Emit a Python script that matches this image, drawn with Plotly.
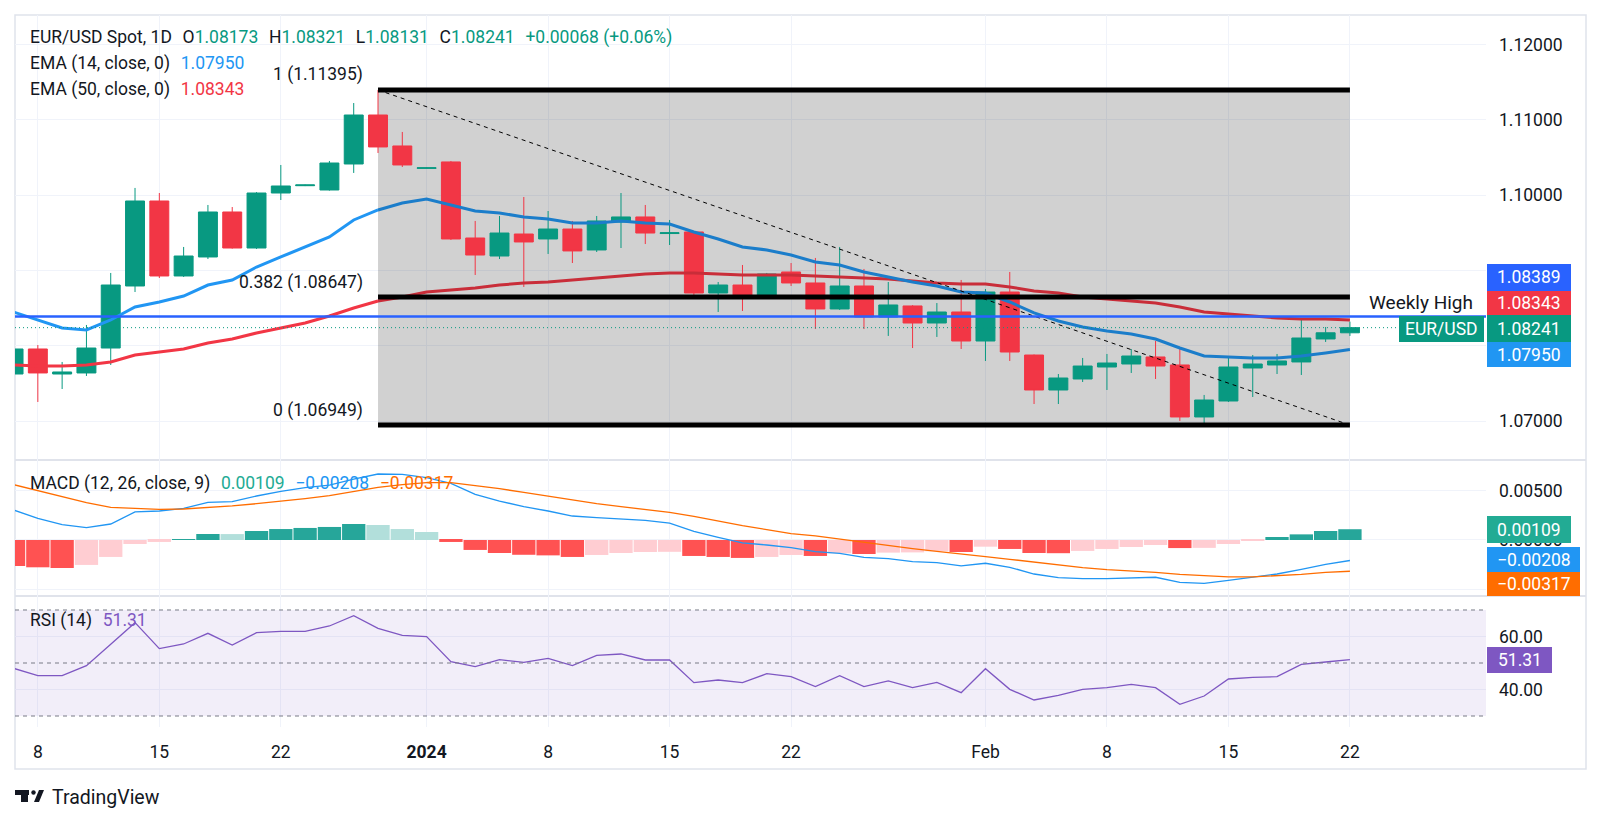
import numpy as np
import pandas as pd
import plotly.graph_objects as go

W, H = 1601, 823
FONT = "Roboto, 'Open Sans', sans-serif"
TXT = "#131722"
GREEN = "#089981"
RED = "#F23645"

# ---------------- data ----------------
dates = pd.bdate_range("2023-12-07", "2024-02-22")

opens = [1.07626, 1.07958, 1.07626, 1.07640, 1.07971, 1.08794, 1.09922, 1.08927, 1.09179, 1.09776,
         1.09298, 1.10028, 1.10125, 1.10068, 1.10413, 1.11063, 1.10652, 1.10355, 1.10440, 1.09431,
         1.09192, 1.09484, 1.09418, 1.09550, 1.09272, 1.09643, 1.09710, 1.09490, 1.09511, 1.08701,
         1.08807, 1.08675, 1.08980, 1.08834, 1.08489, 1.08794, 1.08383, 1.08529, 1.08303, 1.08449,
         1.08064, 1.08714, 1.07878, 1.07414, 1.07560, 1.07719, 1.07759, 1.07852, 1.07746, 1.07056,
         1.07268, 1.07706, 1.07746, 1.07786, 1.08091, 1.08173]
highs = [1.08011, 1.08011, 1.07786, 1.08277, 1.08967, 1.10095, 1.10028, 1.09312, 1.09869, 1.09842,
         1.10040, 1.10400, 1.10140, 1.10453, 1.11222, 1.11395, 1.10838, 1.10370, 1.10453, 1.09657,
         1.09723, 1.09975, 1.09789, 1.09657, 1.09723, 1.10028, 1.09869, 1.09670, 1.09520, 1.08847,
         1.09073, 1.08967, 1.09099, 1.09166, 1.09312, 1.09020, 1.08847, 1.08540, 1.08568, 1.08874,
         1.08754, 1.08980, 1.07885, 1.07626, 1.07839, 1.07892, 1.07958, 1.08064, 1.07985, 1.07348,
         1.07852, 1.07878, 1.07892, 1.08369, 1.08250, 1.08321]
lows = [1.07573, 1.07255, 1.07427, 1.07600, 1.07746, 1.08714, 1.08900, 1.08914, 1.09152, 1.09290,
        1.09285, 1.09935, 1.10120, 1.10060, 1.10294, 1.10559, 1.10373, 1.10350, 1.09405, 1.08940,
        1.09152, 1.08781, 1.09219, 1.09099, 1.09245, 1.09298, 1.09351, 1.09338, 1.08622, 1.08449,
        1.08462, 1.08662, 1.08794, 1.08223, 1.08476, 1.08223, 1.08131, 1.07971, 1.08118, 1.07958,
        1.07799, 1.07799, 1.07228, 1.07228, 1.07520, 1.07414, 1.07640, 1.07560, 1.07003, 1.06949,
        1.07255, 1.07321, 1.07626, 1.07613, 1.08051, 1.08131]
closes = [1.07958, 1.07640, 1.07653, 1.07971, 1.08807, 1.09922, 1.08927, 1.09192, 1.09776, 1.09298,
          1.10028, 1.10121, 1.10135, 1.10426, 1.11063, 1.10639, 1.10400, 1.10362, 1.09418, 1.09205,
          1.09497, 1.09378, 1.09550, 1.09259, 1.09657, 1.09710, 1.09497, 1.09500, 1.08701, 1.08807,
          1.08675, 1.08953, 1.08834, 1.08489, 1.08794, 1.08383, 1.08542, 1.08303, 1.08449, 1.08064,
          1.08714, 1.07918, 1.07414, 1.07573, 1.07732, 1.07772, 1.07865, 1.07732, 1.07056, 1.07281,
          1.07719, 1.07759, 1.07799, 1.08104, 1.08173, 1.08241]

ema14 = [1.08449, 1.08343, 1.08237, 1.08210, 1.08343, 1.08515, 1.08582, 1.08661, 1.08807, 1.08874,
         1.09046, 1.09179, 1.09312, 1.09444, 1.09670, 1.09803, 1.09895, 1.09949, 1.09869, 1.09789,
         1.09763, 1.09710, 1.09683, 1.09630, 1.09630, 1.09657, 1.09630, 1.09617, 1.09511, 1.09418,
         1.09312, 1.09272, 1.09205, 1.09113, 1.09073, 1.08980, 1.08914, 1.08847, 1.08794, 1.08714,
         1.08701, 1.08582, 1.08436, 1.08330, 1.08250, 1.08197, 1.08157, 1.08091, 1.07971, 1.07865,
         1.07852, 1.07839, 1.07839, 1.07865, 1.07905, 1.07950]
ema50 = [1.07746, 1.07732, 1.07732, 1.07746, 1.07786, 1.07878, 1.07918, 1.07958, 1.08038, 1.08091,
         1.08170, 1.08237, 1.08303, 1.08396, 1.08502, 1.08595, 1.08648, 1.08714, 1.08741, 1.08768,
         1.08807, 1.08834, 1.08847, 1.08874, 1.08900, 1.08927, 1.08953, 1.08967, 1.08967, 1.08953,
         1.08940, 1.08940, 1.08940, 1.08927, 1.08914, 1.08900, 1.08887, 1.08860, 1.08834, 1.08821,
         1.08821, 1.08781, 1.08728, 1.08701, 1.08648, 1.08622, 1.08595, 1.08568, 1.08515, 1.08449,
         1.08423, 1.08396, 1.08369, 1.08356, 1.08356, 1.08343]

macd = [0.00304, 0.00220, 0.00155, 0.00125, 0.00162, 0.00284, 0.00294, 0.00321, 0.00382, 0.00388,
        0.00446, 0.00493, 0.00530, 0.00557, 0.00618, 0.00669, 0.00665, 0.00632, 0.00574, 0.00463,
        0.00395, 0.00338, 0.00294, 0.00243, 0.00226, 0.00216, 0.00199, 0.00172, 0.00088, 0.00027,
        -0.00030, -0.00051, -0.00078, -0.00118, -0.00135, -0.00176, -0.00189, -0.00220, -0.00230, -0.00263,
        -0.00236, -0.00277, -0.00345, -0.00382, -0.00392, -0.00392, -0.00382, -0.00378, -0.00429, -0.00439,
        -0.00409, -0.00378, -0.00345, -0.00297, -0.00247, -0.00208]
signal = [0.00561, 0.00500, 0.00439, 0.00378, 0.00331, 0.00318, 0.00311, 0.00314, 0.00328, 0.00345,
          0.00368, 0.00392, 0.00419, 0.00449, 0.00493, 0.00534, 0.00561, 0.00581, 0.00581, 0.00554,
          0.00520, 0.00483, 0.00443, 0.00402, 0.00368, 0.00338, 0.00307, 0.00280, 0.00240, 0.00189,
          0.00145, 0.00105, 0.00064, 0.00041, 0.00007, -0.00027, -0.00057, -0.00088, -0.00115, -0.00145,
          -0.00169, -0.00196, -0.00226, -0.00257, -0.00280, -0.00301, -0.00314, -0.00328, -0.00348, -0.00365,
          -0.00375, -0.00375, -0.00365, -0.00348, -0.00328, -0.00317]
hist = [-0.00264, -0.00277, -0.00284, -0.00253, -0.00172, -0.00041, -0.00020, 0.00010, 0.00061, 0.00060,
        0.00091, 0.00111, 0.00122, 0.00132, 0.00162, 0.00152, 0.00111, 0.00081, -0.00020, -0.00101,
        -0.00132, -0.00150, -0.00156, -0.00172, -0.00152, -0.00132, -0.00122, -0.00120, -0.00162, -0.00172,
        -0.00182, -0.00172, -0.00152, -0.00162, -0.00135, -0.00142, -0.00128, -0.00126, -0.00115, -0.00122,
        -0.00068, -0.00091, -0.00132, -0.00134, -0.00111, -0.00091, -0.00071, -0.00051, -0.00082, -0.00080,
        -0.00041, -0.00010, 0.00030, 0.00057, 0.00091, 0.00109]

rsi = [47.99, 45.22, 45.22, 48.99, 57.04, 65.22, 55.41, 57.17, 61.19, 56.79,
       61.45, 61.95, 61.95, 63.96, 67.86, 63.08, 60.44, 59.94, 50.50, 48.62,
       51.26, 50.25, 51.76, 48.99, 52.89, 53.40, 51.13, 51.13, 42.58, 43.58,
       42.58, 45.97, 44.84, 41.07, 45.22, 41.07, 43.21, 40.69, 42.70, 38.81,
       47.86, 40.06, 36.04, 37.80, 40.06, 40.69, 41.95, 40.69, 34.40, 37.55,
       43.96, 44.59, 44.84, 49.50, 50.38, 51.31]

weekly_high = 1.08389
fib_start, fib_end = "2023-12-28", "2024-02-22"
fib_high, fib_low = 1.11395, 1.06949
fib_mid_ratio = 0.382
rsi_band = (30, 70)
rsi_levels = (70, 50, 30)

tick_dates = ["2023-12-08", "2023-12-15", "2023-12-22", "2024-01-01", "2024-01-08", "2024-01-15",
              "2024-01-22", "2024-02-01", "2024-02-08", "2024-02-15", "2024-02-22"]
tick_text = ["8", "15", "22", "<b>2024</b>", "8", "15", "22", "Feb", "8", "15", "22"]

price_ticks = [1.07, 1.08, 1.09, 1.10, 1.11, 1.12]
price_labels_hidden = [1.08, 1.09]          # covered by the price tags in the reference
macd_ticks = [-0.005, 0.0, 0.005]
macd_labels_hidden = [-0.005]
rsi_ticks = [40, 60]

# ---------------- helpers ----------------
pos = {d.strftime("%Y-%m-%d"): i for i, d in enumerate(dates)}
x = np.arange(len(dates))
x_range = [0.06, 60.6]


def px(v):
    return v / W


def py(v):
    return 1 - v / H


MINUS = "\u2212"


def fmt(v, d=5):
    s = f"{abs(v):.{d}f}"
    return (MINUS + s) if v < 0 else s


fib_mid = fib_low + fib_mid_ratio * (fib_high - fib_low)
i0, i1 = pos[fib_start], pos[fib_end]

# histogram colours (TradingView rule)
hcol = []
for k, v in enumerate(hist):
    prev = hist[k - 1] if k > 0 else (v + 1e-9 if v < 0 else v - 1e-9)
    if v >= 0:
        hcol.append("#26A69A" if v > prev else "#B2DFDB")
    else:
        hcol.append("#FFCDD2" if v > prev else "#FF5252")

fig = go.Figure()
# EMA lines: the part under the semi-transparent fib box is drawn in its shaded tone
for series, bright, shaded in ((ema50, "#F23645", "#C92D39"), (ema14, "#2196F3", "#1B7DCA")):
    fig.add_trace(go.Scatter(x=x[:i0 + 1], y=series[:i0 + 1], mode="lines", line=dict(color=bright, width=3),
                             hoverinfo="skip", showlegend=False))
    fig.add_trace(go.Scatter(x=x[i0:], y=series[i0:], mode="lines", line=dict(color=shaded, width=3),
                             hoverinfo="skip", showlegend=False))
fig.add_trace(go.Candlestick(x=x, open=opens, high=highs, low=lows, close=closes,
                             increasing=dict(line=dict(color=GREEN, width=1), fillcolor=GREEN),
                             decreasing=dict(line=dict(color=RED, width=1), fillcolor=RED),
                             whiskerwidth=0, hoverinfo="skip", showlegend=False))
fig.add_trace(go.Bar(x=x, y=hist, marker=dict(color=hcol, line=dict(width=0)), yaxis="y2",
                     hoverinfo="skip", showlegend=False))
fig.add_trace(go.Scatter(x=x, y=macd, mode="lines", line=dict(color="#2196F3", width=1.3), yaxis="y2",
                         hoverinfo="skip", showlegend=False))
fig.add_trace(go.Scatter(x=x, y=signal, mode="lines", line=dict(color="#FF6D00", width=1.3), yaxis="y2",
                         hoverinfo="skip", showlegend=False))
fig.add_trace(go.Scatter(x=x, y=rsi, mode="lines", line=dict(color="#7E57C2", width=1.3), yaxis="y3",
                         hoverinfo="skip", showlegend=False))

shapes = []
annotations = []

# fib background box (above grid, below traces)
shapes.append(dict(type="rect", xref="x", yref="y", x0=i0, x1=i1, y0=fib_low, y1=fib_high,
                   fillcolor="rgba(0,0,0,0.18)", line=dict(width=0), layer="between"))
# RSI band (above grid, below traces)
shapes.append(dict(type="rect", xref="x", yref="y3", x0=x_range[0], x1=x_range[1],
                   y0=rsi_band[0], y1=rsi_band[1],
                   fillcolor="rgba(126,87,194,0.1)", line=dict(width=0), layer="between"))
# fib lines + diagonal
for lvl in (fib_high, fib_mid, fib_low):
    shapes.append(dict(type="line", xref="x", yref="y", x0=i0, x1=i1, y0=lvl, y1=lvl,
                       line=dict(color="black", width=5), layer="above"))
shapes.append(dict(type="line", xref="x", yref="y", x0=i0, x1=i1, y0=fib_high, y1=fib_low,
                   line=dict(color="black", width=1, dash="4px,4px"), layer="above"))
# weekly high / last price
shapes.append(dict(type="line", xref="x", yref="y", x0=x_range[0], x1=x_range[1], y0=weekly_high, y1=weekly_high,
                   line=dict(color="#2962FF", width=2.5), layer="above"))
shapes.append(dict(type="line", xref="x", yref="y", x0=x_range[0], x1=x_range[1], y0=closes[-1], y1=closes[-1],
                   line=dict(color=GREEN, width=1, dash="1px,3px"), layer="above"))
# RSI levels
for lvl in rsi_levels:
    shapes.append(dict(type="line", xref="x", yref="y3", x0=x_range[0], x1=x_range[1], y0=lvl, y1=lvl,
                       line=dict(color="#787B86", width=1, dash="4px,4px"), layer="above"))
# frame and separators
shapes.append(dict(type="rect", xref="paper", yref="paper", x0=px(15), x1=px(1586), y0=py(769), y1=py(15),
                   line=dict(color="#E0E3EB", width=1.5), layer="below"))
for yy in (460, 596):
    shapes.append(dict(type="line", xref="paper", yref="paper", x0=px(15), x1=px(1586), y0=py(yy), y1=py(yy),
                       line=dict(color="#E0E3EB", width=2), layer="below"))


def tag(x0, x1, y0, y1, bg, text, size=17.5):
    shapes.append(dict(type="rect", xref="paper", yref="paper", x0=px(x0), x1=px(x1), y0=py(y1), y1=py(y0),
                       fillcolor=bg, line=dict(width=0), layer="above"))
    annotations.append(dict(xref="paper", yref="paper", x=px((x0 + x1) / 2), y=py((y0 + y1) / 2),
                            text=text, showarrow=False, font=dict(color="white", size=size, family=FONT),
                            xanchor="center", yanchor="middle"))


tag(1487, 1571, 264, 291, "#2962FF", fmt(weekly_high))
tag(1487, 1571, 291, 315, "#F23645", fmt(ema50[-1]))
tag(1399, 1484, 316, 342, GREEN, "EUR/USD")
tag(1487, 1571, 315, 342, GREEN, fmt(closes[-1]))
tag(1487, 1571, 342, 367, "#2196F3", fmt(ema14[-1]))
tag(1487, 1571, 516, 543, "#22AB94", fmt(hist[-1]))
tag(1487, 1580, 547, 572, "#2196F3", fmt(macd[-1]))
tag(1487, 1580, 572, 596, "#FF6D00", fmt(signal[-1]))
tag(1487, 1552, 647, 673, "#7E57C2", f"{rsi[-1]:.2f}")


def note(xp, yp, text, size=17.5, color=TXT, anchor="left"):
    annotations.append(dict(xref="paper", yref="paper", x=px(xp), y=py(yp), text=text, showarrow=False,
                            font=dict(color=color, size=size, family=FONT), xanchor=anchor, yanchor="middle"))


SP = "\u2002\u200a"
chg = closes[-1] - closes[-2]
pct = chg / closes[-2] * 100
g = lambda s: f"<span style='color:{GREEN}'>{s}</span>"
line1 = (f"EUR/USD Spot, 1D{SP}O{g(fmt(opens[-1]))}{SP}H{g(fmt(highs[-1]))}{SP}L{g(fmt(lows[-1]))}"
         f"{SP}C{g(fmt(closes[-1]))}{SP}{g(f'+{chg:.5f} (+{pct:.2f}%)')}")
note(28, 38, line1)
note(28, 64, f"EMA (14, close, 0){SP}<span style='color:#2196F3'>{fmt(ema14[-1])}</span>")
note(28, 90, f"EMA (50, close, 0){SP}<span style='color:#F23645'>{fmt(ema50[-1])}</span>")
note(28, 483, f"MACD (12, 26, close, 9){SP}<span style='color:#22AB94'>{fmt(hist[-1])}</span>{SP}"
              f"<span style='color:#2196F3'>{fmt(macd[-1])}</span>{SP}"
              f"<span style='color:#FF6D00'>{fmt(signal[-1])}</span>")
note(28, 620, f"RSI (14){SP}<span style='color:#7E57C2'>{rsi[-1]:.2f}</span>")
note(1475, 302, "Weekly High", size=19, anchor="right")
note(50, 797, "TradingView", size=19.5)

# fib labels anchored to data
for ratio, lvl in ((1, fib_high), (fib_mid_ratio, fib_mid), (0, fib_low)):
    annotations.append(dict(xref="x", yref="y", x=i0, y=lvl, xshift=-13, yshift=15,
                            text=f"{ratio:g} ({lvl:.5f})", showarrow=False,
                            font=dict(color=TXT, size=17.5, family=FONT), xanchor="right", yanchor="middle"))


# logo
def rectp(x0, x1, y0, y1):
    shapes.append(dict(type="rect", xref="paper", yref="paper", x0=px(x0), x1=px(x1), y0=py(y1), y1=py(y0),
                       fillcolor=TXT, line=dict(width=0), layer="above"))


rectp(15, 29, 790, 795)
rectp(21, 28, 790, 802)
shapes.append(dict(type="circle", xref="paper", yref="paper", x0=px(31.3), x1=px(35.7), y0=py(794.7), y1=py(790.3),
                   fillcolor=TXT, line=dict(width=0), layer="above"))
shapes.append(dict(type="path", xref="paper", yref="paper",
                   path=f"M {px(34)} {py(802)} L {px(39)} {py(802)} L {px(44)} {py(790)} L {px(39)} {py(790)} Z",
                   fillcolor=TXT, line=dict(width=0), layer="above"))

axis_font = dict(size=17.5, color=TXT, family=FONT)
fig.update_layout(
    width=W, height=H, margin=dict(l=0, r=0, t=0, b=0),
    paper_bgcolor="white", plot_bgcolor="white",
    font=dict(family=FONT, color=TXT),
    hovermode=False, showlegend=False,
    bargap=0.04, boxgap=0.22, boxgroupgap=0,
    xaxis=dict(domain=[px(15), px(1486)], range=x_range, anchor="y3",
               tickmode="array", tickvals=[pos[d] for d in tick_dates], ticktext=tick_text,
               showgrid=True, gridcolor="#F0F3FA", zeroline=False, showline=False, ticks="",
               tickfont=axis_font, ticklabelstandoff=12, rangeslider=dict(visible=False), fixedrange=True),
    yaxis=dict(domain=[py(460), py(15)], range=[1.06485, 1.12390], side="right", anchor="x",
               tickmode="array", tickvals=price_ticks,
               ticktext=["" if v in price_labels_hidden else f"{v:.5f}" for v in price_ticks],
               showgrid=True, gridcolor="#F0F3FA", zeroline=False, ticks="", tickfont=axis_font,
               ticklabelstandoff=12),
    yaxis2=dict(domain=[py(596), py(460)], range=[-0.00568, 0.00811], side="right", anchor="x",
                tickmode="array", tickvals=macd_ticks,
                ticktext=["" if v in macd_labels_hidden else fmt(v) for v in macd_ticks],
                showgrid=True, gridcolor="#F0F3FA", zeroline=False, ticks="", tickfont=axis_font,
                ticklabelstandoff=12),
    yaxis3=dict(domain=[py(727), py(596)], range=[25.85, 75.28], side="right", anchor="x",
                tickmode="array", tickvals=rsi_ticks, ticktext=[f"{v:.2f}" for v in rsi_ticks],
                showgrid=True, gridcolor="#F0F3FA", zeroline=False, ticks="", tickfont=axis_font,
                ticklabelstandoff=12),
    shapes=shapes, annotations=annotations,
)

fig.write_html("out.html", config={"displayModeBar": False},
               post_script="document.body.style.margin='0';")
